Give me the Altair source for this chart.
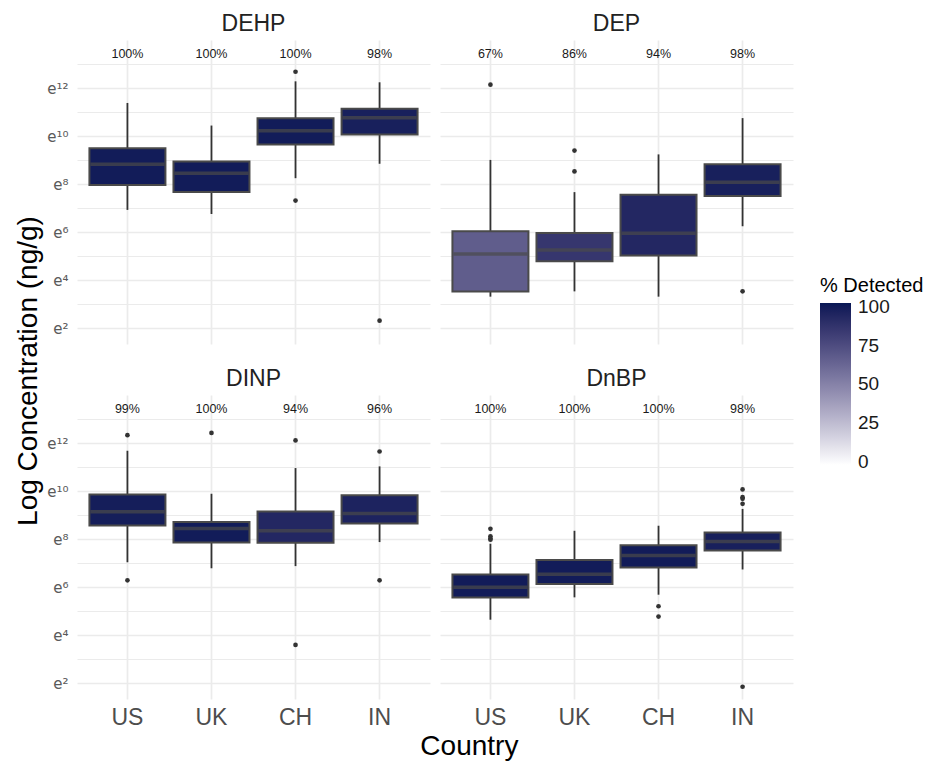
import altair as alt
import pandas as pd

# ---------------- data (natural-log units of concentration, ng/g) ----------------
chemicals = ["DEHP", "DEP", "DINP", "DnBP"]
countries = ["US", "UK", "CH", "IN"]

# per chemical (rows) x country (US, UK, CH, IN)
pct_detected = [
    [100, 100, 100, 98],   # DEHP
    [67, 86, 94, 98],      # DEP
    [99, 100, 94, 96],     # DINP
    [100, 100, 100, 98],   # DnBP
]
whisker_low = [
    [6.93, 6.76, 8.25, 8.85],
    [3.32, 3.54, 3.32, 6.25],
    [7.04, 6.79, 6.88, 7.88],
    [4.65, 5.58, 5.69, 6.74],
]
q1 = [
    [7.97, 7.68, 9.65, 10.07],
    [3.53, 4.79, 5.03, 7.51],
    [8.57, 7.86, 7.85, 8.65],
    [5.57, 6.14, 6.82, 7.53],
]
median = [
    [8.83, 8.46, 10.22, 10.76],
    [5.10, 5.26, 5.96, 8.08],
    [9.14, 8.44, 8.35, 9.07],
    [6.00, 6.54, 7.32, 7.90],
]
q3 = [
    [9.50, 8.94, 10.74, 11.14],
    [6.04, 5.97, 7.56, 8.83],
    [9.86, 8.72, 9.15, 9.83],
    [6.53, 7.13, 7.75, 8.28],
]
whisker_high = [
    [11.38, 10.44, 12.28, 12.24],
    [9.01, 7.67, 9.24, 10.75],
    [11.68, 9.89, 10.96, 11.03],
    [7.81, 8.35, 8.56, 9.26],
]

outlier_chem = ["DEHP", "DEHP", "DEHP",
                "DEP", "DEP", "DEP", "DEP",
                "DINP", "DINP", "DINP", "DINP", "DINP", "DINP", "DINP",
                "DnBP", "DnBP", "DnBP", "DnBP", "DnBP", "DnBP",
                "DnBP", "DnBP", "DnBP", "DnBP", "DnBP"]
outlier_country = ["CH", "CH", "IN",
                   "US", "UK", "UK", "IN",
                   "US", "US", "UK", "CH", "CH", "IN", "IN",
                   "US", "US", "US", "US", "CH", "CH",
                   "IN", "IN", "IN", "IN", "IN"]
outlier_value = [12.68, 7.32, 2.32,
                 12.14, 9.40, 8.53, 3.54,
                 12.33, 6.29, 12.42, 12.11, 3.60, 11.65, 6.29,
                 8.43, 8.12, 8.03, 7.98, 5.21, 4.78,
                 10.07, 9.75, 9.68, 9.47, 1.86]

y_tick_values = [2, 4, 6, 8, 10, 12]
y_tick_labels = ["e\u00b2", "e\u2074", "e\u2076", "e\u2078", "e\u00b9\u2070", "e\u00b9\u00b2"]
legend_values = [0, 25, 50, 75, 100]

# ---------------- build table ----------------
rows = []
for i, chem in enumerate(chemicals):
    for j, c in enumerate(countries):
        rows.append(dict(chem=chem, country=c, kind="box",
                         pct=pct_detected[i][j], label=f"{pct_detected[i][j]}%",
                         wlo=whisker_low[i][j], q1=q1[i][j], med=median[i][j],
                         q3=q3[i][j], whi=whisker_high[i][j]))
for ch, c, v in zip(outlier_chem, outlier_country, outlier_value):
    rows.append(dict(chem=ch, country=c, kind="out", value=v))
df = pd.DataFrame(rows)

FONT = "Liberation Sans"
GRID = "#ebebeb"

label_expr = " : ".join(
    f"datum.value == {v} ? '{l}'" for v, l in zip(y_tick_values, y_tick_labels)
) + " : ''"

y_scale = alt.Scale(domain=[1.35, 14.0], nice=False, zero=False)
y_axis = alt.Axis(
    title=None, values=list(range(2, 14)), labelExpr=label_expr,
    grid=True, gridColor=GRID,
    gridWidth={"condition": {"test": "datum.value % 2 == 0", "value": 1.7}, "value": 1.0},
    ticks=False, domain=False, labelFontSize=15, labelColor="#5a5a5a",
    labelPadding=9, labelFont="DejaVu Sans",
)
x_enc = alt.X(
    "country:N", sort=countries,
    scale=alt.Scale(paddingInner=0.1, paddingOuter=0.15),
    axis=alt.Axis(title=None, grid=True, bandPosition=0.5, tickExtra=False,
                  gridColor=GRID, gridWidth=1.7,
                  ticks=False, domain=False, labelAngle=0, labelFontSize=23,
                  labelColor="#4d4d4d", labelPadding=7, labelFont=FONT),
)

base = alt.Chart()

whisk = base.mark_rule(color="#333333", strokeWidth=1.8).encode(
    x=x_enc,
    y=alt.Y("wlo:Q", scale=y_scale, axis=y_axis),
    y2="whi:Q",
).transform_filter("datum.kind == 'box'")

boxes = base.mark_bar(stroke="#4a4a4a", strokeWidth=2, size=76).encode(
    x=x_enc,
    y=alt.Y("q1:Q", scale=y_scale, axis=y_axis),
    y2="q3:Q",
    color=alt.Color(
        "pct:Q",
        scale=alt.Scale(domain=[-2, 102.5], range=["#ffffff", "#081855"], interpolate="lab"),
        legend=alt.Legend(
            title="% Detected", titleFontSize=20, titleFont=FONT, titleColor="#000000",
            titleFontWeight="normal", labelFontSize=19, labelFont=FONT, labelColor="#1a1a1a",
            gradientLength=162, gradientThickness=31, values=legend_values,
            direction="vertical", orient="none", legendX=743, legendY=236,
            titlePadding=7, labelOffset=7,
        ),
    ),
).transform_filter("datum.kind == 'box'")

meds = base.mark_tick(color="#4a4a4a", thickness=3.5, size=74).encode(
    x=x_enc,
    y=alt.Y("med:Q", scale=y_scale, axis=y_axis),
).transform_filter("datum.kind == 'box'")

outs = base.mark_circle(color="#333333", size=22, opacity=1).encode(
    x=x_enc,
    y=alt.Y("value:Q", scale=y_scale, axis=y_axis),
).transform_filter("datum.kind == 'out'")

pct_text = base.mark_text(fontSize=12.5, color="#1a1a1a", font=FONT).encode(
    x=x_enc,
    y=alt.value(14),
    text="label:N",
).transform_filter("datum.kind == 'box'")

layered = alt.layer(whisk, boxes, meds, outs, pct_text).properties(width=353, height=304)

facet = layered.facet(
    facet=alt.Facet("chem:N", sort=chemicals,
                    header=alt.Header(title=None, labelFontSize=23, labelFont=FONT,
                                      labelColor="#222222", labelPadding=4)),
    columns=2,
    data=df,
    spacing={"row": 24, "column": 10},
).properties(
    title=alt.TitleParams("Log Concentration (ng/g)", orient="left", anchor="middle",
                          fontSize=28, font=FONT, fontWeight="normal", color="#000000",
                          offset=4)
)

chart = alt.vconcat(facet).properties(
    title=alt.TitleParams("Country", orient="bottom", anchor="middle", fontSize=28,
                          font=FONT, fontWeight="normal", color="#000000", offset=4),
    padding={"left": 6, "top": 5, "right": 0, "bottom": 4},
).configure(font=FONT).configure_view(strokeWidth=0, stroke="transparent")

chart.save("out.html", embed_options={"renderer": "svg", "actions": False})
